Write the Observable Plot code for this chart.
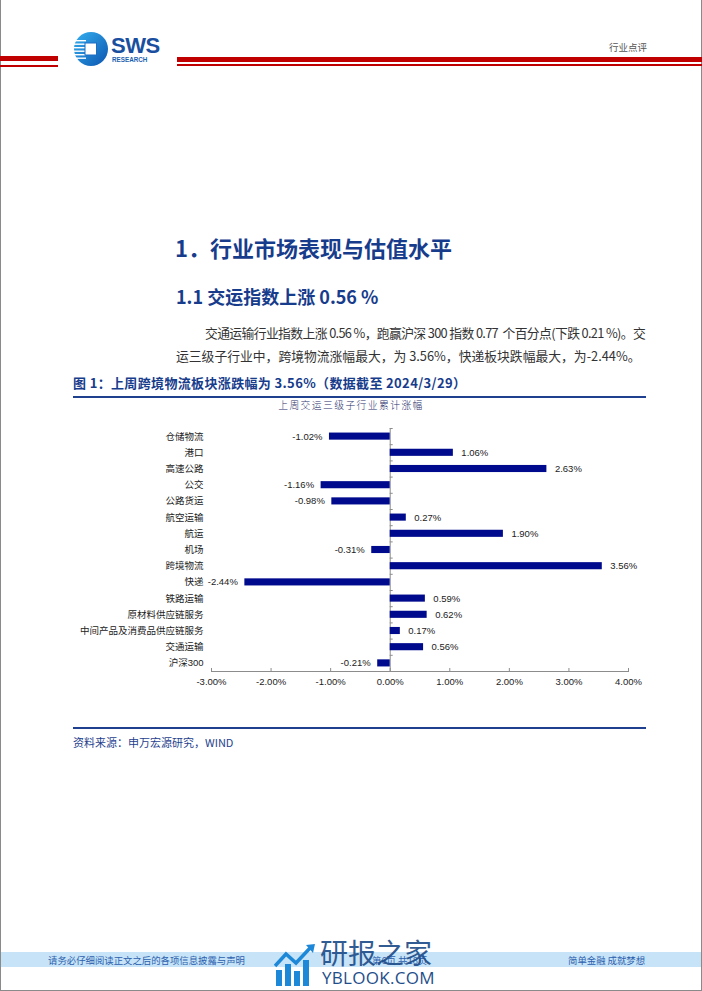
<!DOCTYPE html>
<html><head><meta charset="utf-8">
<script src="https://cdn.jsdelivr.net/npm/d3@7"></script>
<script src="https://cdn.jsdelivr.net/npm/@observablehq/plot@0.6"></script>
<style>
html,body{margin:0;padding:0;background:#fff;}
#page{position:relative;width:702px;height:991px;overflow:hidden;font-family:"Noto Sans CJK SC","Noto Sans",sans-serif;}
.abs{position:absolute;white-space:nowrap;}
.cjk{font-family:"Noto Sans CJK SC",sans-serif;}
</style></head>
<body><div id="page">
<!-- page borders -->
<div class="abs" style="left:0;top:0;width:1px;height:991px;background:#8a8a8a"></div>
<div class="abs" style="left:701px;top:0;width:1px;height:991px;background:#8a8a8a"></div>
<div class="abs" style="left:0;top:990px;width:702px;height:1px;background:#8a8a8a"></div>

<!-- header -->
<div class="abs" style="left:0;top:56px;width:58px;height:5px;background:#C00000"></div>
<div class="abs" style="left:0;top:65px;width:58px;height:2px;background:#C00000"></div>
<div class="abs" style="left:177px;top:57px;width:525px;height:5px;background:#C00000"></div>
<div class="abs" style="left:177px;top:64px;width:525px;height:2px;background:#C00000"></div>
<svg class="abs" style="left:73px;top:31px" width="36" height="36" viewBox="0 0 36 36">
 <defs><linearGradient id="lg" x1="0" y1="0" x2="1" y2="1"><stop offset="0" stop-color="#35B0F0"/><stop offset="1" stop-color="#0B55B0"/></linearGradient></defs>
 <circle cx="18" cy="18" r="17" fill="url(#lg)"/>
 <rect x="1" y="9" width="12" height="1.4" fill="#fff"/>
 <rect x="0.5" y="12.5" width="12" height="1.4" fill="#fff"/>
 <rect x="0.5" y="16" width="12" height="1.4" fill="#fff"/>
 <rect x="0.5" y="19.5" width="12" height="1.4" fill="#fff"/>
 <rect x="0.5" y="23" width="12" height="1.4" fill="#fff"/>
 <rect x="1" y="26.5" width="12" height="1.4" fill="#fff"/>
 <rect x="12" y="12" width="11.5" height="12" fill="#fff" stroke="#1B6CC6" stroke-width="1"/>
</svg>
<div class="abs" style="left:111px;top:36px;font:bold 22px 'Liberation Sans',Arial,sans-serif;line-height:19px;color:#1A4FA0;letter-spacing:-0.5px">SWS</div>
<div class="abs" style="left:112px;top:56.5px;font:bold 6.3px 'Liberation Sans',Arial,sans-serif;line-height:6.3px;color:#1A5FB0">RESEARCH</div>
<div class="abs cjk" style="left:609px;top:39px;font-size:9.5px;line-height:16px;color:#555">行业点评</div>

<!-- headings -->
<div class="abs cjk" style="left:175px;top:232px;font-size:22px;font-weight:700;line-height:30px;color:#173C8C">1．行业市场表现与估值水平</div>
<div class="abs cjk" style="left:176px;top:281px;font-size:18px;font-weight:700;line-height:30px;color:#173C8C">1.1 交运指数上涨 0.56 %</div>

<!-- paragraph -->
<div class="abs cjk" style="left:176px;top:322px;width:469px;font-size:12.8px;line-height:22px;color:#333;white-space:normal;letter-spacing:-0.7px;text-indent:29px;text-align:justify;text-align-last:justify">交通运输行业指数上涨 0.56 %，跑赢沪深 300 指数 0.77&nbsp; 个百分点(下跌 0.21 %)。交</div>
<div class="abs cjk" style="left:176px;top:345px;font-size:12.8px;line-height:22px;color:#333">运三级子行业中，跨境物流涨幅最大，为 3.56%，快递板块跌幅最大，为-2.44%。</div>

<!-- figure title -->
<div class="abs cjk" style="left:73px;top:373px;font-size:13px;font-weight:700;line-height:20px;letter-spacing:0.35px;color:#173C8C">图 1：上周跨境物流板块涨跌幅为 3.56%（数据截至 2024/3/29）</div>
<div class="abs" style="left:73px;top:396px;width:573px;height:1.5px;background:#1F3F8F"></div>
<div class="abs cjk" style="left:0;width:702px;text-align:center;top:397px;font-size:9.8px;font-weight:300;line-height:16px;letter-spacing:1.4px;color:#2A2F6A">上周交运三级子行业累计涨幅</div>

<div id="chart" class="abs" style="left:0;top:420px"></div>

<!-- source -->
<div class="abs" style="left:73px;top:727px;width:573px;height:1.5px;background:#1F3F8F"></div>
<div class="abs cjk" style="left:73px;top:733px;font-size:11px;line-height:18px;color:#1F3F8F">资料来源：申万宏源研究，WIND</div>

<!-- footer -->
<div class="abs" style="left:1px;top:952px;width:700px;height:15px;background:#C6E3F7"></div>
<div class="abs cjk" style="left:48px;top:952px;font-size:9.4px;line-height:16px;color:#2C5FAE">请务必仔细阅读正文之后的各项信息披露与声明</div>
<div class="abs cjk" style="left:372px;top:952px;font-size:9.4px;line-height:16px;color:#2C5FAE">第6页 共18页</div>
<div class="abs cjk" style="left:568px;top:952px;font-size:9.4px;line-height:16px;color:#2C5FAE">简单金融 成就梦想</div>
<!-- watermark -->
<svg class="abs" style="left:274px;top:944px" width="44" height="42" viewBox="0 0 44 42">
 <rect x="2" y="26" width="6" height="16" fill="#1E88D8"/>
 <rect x="11" y="20" width="6" height="22" fill="#1E88D8"/>
 <rect x="20" y="27" width="6" height="15" fill="#1E88D8"/>
 <rect x="29" y="16" width="6" height="26" fill="#1E88D8"/>
 <polyline points="1,22 12,10 22,19 37,3" fill="none" stroke="#1E88D8" stroke-width="3.5"/>
 <polygon points="32,1 41,0 39,9" fill="#1E88D8"/>
</svg>
<div class="abs cjk" style="left:320px;top:934px;font-size:28px;line-height:36px;color:#1F4E8A;opacity:0.92">研报之家</div>
<div class="abs" style="left:322px;top:968px;font:17px 'Open Sans','Noto Sans',sans-serif;line-height:20px;color:#1F4E8A;letter-spacing:0.3px">YBLOOK.COM</div>
</div>
<script>
const categories = ["仓储物流","港口","高速公路","公交","公路货运","航空运输","航运","机场","跨境物流","快递","铁路运输","原材料供应链服务","中间产品及消费品供应链服务","交通运输","沪深300"];
const values = [-1.02, 1.06, 2.63, -1.16, -0.98, 0.27, 1.90, -0.31, 3.56, -2.44, 0.59, 0.62, 0.17, 0.56, -0.21];
const xTicks = [-3, -2, -1, 0, 1, 2, 3, 4];

const data = categories.map((name, i) => ({name, value: values[i]}));
const fmt = v => v.toFixed(2) + "%";

const chart = Plot.plot({
  width: 702,
  height: 276,
  marginLeft: 211,
  marginRight: 74,
  marginTop: 8,
  marginBottom: 25,
  style: {fontFamily: '"Liberation Sans", Arial, "Noto Sans CJK SC", sans-serif', fontSize: "9.5px", color: "#222", background: "transparent", overflow: "visible"},
  x: {domain: [-3, 4]},
  y: {domain: categories, paddingInner: 0.5, paddingOuter: 0.25, round: false},
  marks: [
    Plot.frame({anchor: "bottom", stroke: "#8c8c8c"}),
    Plot.ruleX([0], {stroke: "#8c8c8c"}),
    Plot.ruleY(categories, {y: d => d, x1: 0, x2: 0.05, dy: -8.1, stroke: "#8c8c8c"}),
    Plot.barX(data, {x: "value", y: "name", fill: "#000A8C", insetTop: 0.5, insetBottom: 0.5}),
    Plot.text(data.filter(d => d.value >= 0), {x: "value", y: "name", text: d => fmt(d.value), textAnchor: "start", dx: 8, fill: "#222"}),
    Plot.text(data.filter(d => d.value < 0), {x: "value", y: "name", text: d => fmt(d.value), textAnchor: "end", dx: -7, fill: "#222"}),
    Plot.axisY({tickSize: 0, tickPadding: 8, label: null, fill: "#222"}),
    Plot.axisX(xTicks, {tickSize: -3, tickPadding: 10, tickFormat: fmt, label: null, stroke: "#8c8c8c", fill: "#222"})
  ]
});
document.getElementById("chart").appendChild(chart);
</script>
</body></html>
